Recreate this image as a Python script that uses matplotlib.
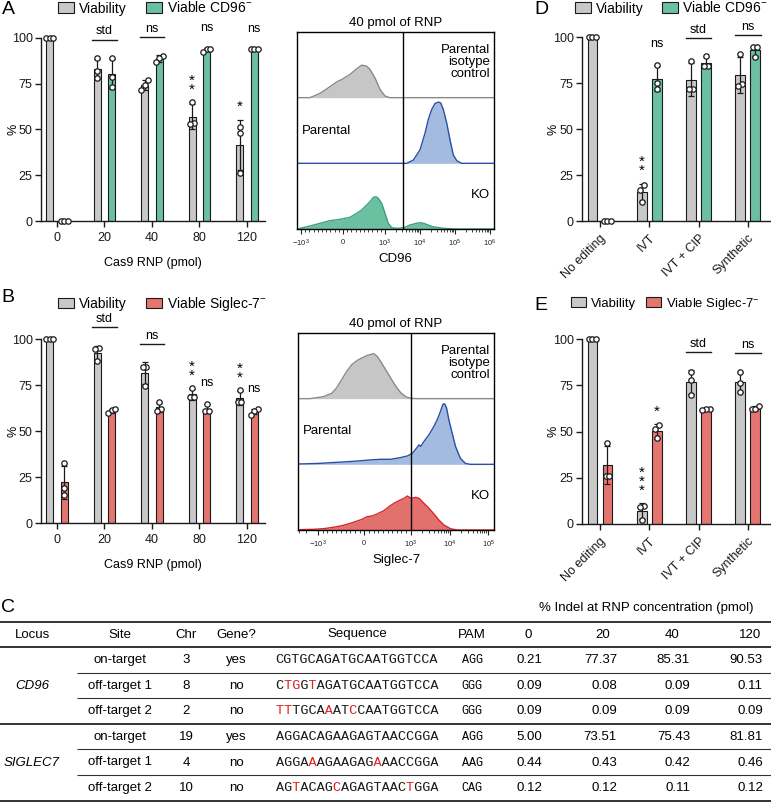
import numpy as np
import matplotlib
matplotlib.use('Agg')
import matplotlib.pyplot as plt
from matplotlib.patches import Patch

plt.rcParams['font.family'] = ['Liberation Sans', 'DejaVu Sans']
plt.rcParams['mathtext.fontset'] = 'custom'
plt.rcParams['mathtext.rm'] = 'Liberation Sans'
plt.rcParams['mathtext.it'] = 'Liberation Sans:italic'
plt.rcParams['mathtext.bf'] = 'Liberation Sans:bold'

W, H = 771, 802

# ---------------- bar chart data (3 replicates each) ----------------
doses = ['0', '20', '40', '80', '120']
a_viab = [[100, 100, 100], [89, 82, 77.8], [76.9, 74, 71.5], [64.7, 53.3, 52.7], [51.1, 47.8, 26]]
a_cd96 = [[0, 0, 0], [89, 78.7, 72.9], [90.2, 88.7, 86.5], [93.8, 93.8, 92.4], [93.8, 93.8, 93.8]]
b_viab = [[100, 100, 100], [95.1, 94.6, 88.2], [85.1, 84.8, 74.8], [73.5, 68.5, 68.5], [72.5, 66, 66]]
b_sig7 = [[32.6, 19, 15.4], [60, 61.5, 62], [66, 62, 61], [65, 61, 61], [62, 61, 59]]

methods = ['No editing', 'IVT', 'IVT + CIP', 'Synthetic']
d_viab = [[100, 100, 100], [19.6, 16.9, 10.4], [87, 72, 71.5], [90.9, 74.2, 73.6]]
d_cd96 = [[0, 0, 0], [85, 75, 72], [89.6, 84.5, 84.2], [94.5, 94.5, 89]]
e_viab = [[100, 100, 100], [9.9, 9, 2.2], [82.5, 78, 69.9], [82.5, 76.5, 71.5]]
e_sig7 = [[44, 26, 26], [53.6, 51.4, 46.4], [62.5, 62, 61.5], [64, 62, 62]]

# significance marks: (group, where, text)
a_marks = [(1, 'pair', 'std'), (2, 'pair', 'ns'), (3, 'grey', '*\n*'), (3, 'col', 'ns'),
           (4, 'grey', '*'), (4, 'col', 'ns')]
b_marks = [(1, 'pair', 'std'), (2, 'pair', 'ns'), (3, 'grey', '*\n*'), (3, 'col', 'ns'),
           (4, 'grey', '*\n*'), (4, 'col', 'ns')]
d_marks = [(1, 'grey', '*\n*'), (1, 'col', 'ns'), (2, 'pair', 'std'), (3, 'pair', 'ns')]
e_marks = [(1, 'grey', '*\n*\n*'), (1, 'col', '*'), (2, 'pair', 'std'), (3, 'pair', 'ns')]

# ---------------- flow histograms (fluorescence, relative height) ----------------
a_iso_x = [-786, -548, -310, -150, -31, 167, 326, 445, 564, 643, 762, 881, 1000, 1390]
a_iso_h = [0, 0.066, 0.167, 0.24, 0.276, 0.354, 0.44, 0.495, 0.48, 0.43, 0.30, 0.126, 0.025, 0]
a_par_x = [4170, 6450, 10000, 13900, 17300, 21600, 26800, 33400, 39000, 46300, 57900,
           71900, 89400, 112000, 155000]
a_par_h = [0, 0.05, 0.205, 0.46, 0.67, 0.82, 0.91, 0.933, 0.92, 0.82, 0.615, 0.36, 0.128, 0.041, 0]
a_ko_x = [-1064, -786, -548, -310, -71, 167, 326, 445, 564, 643, 722, 786, 841, 921, 1000,
          1240, 1570, 2210, 3450, 5190, 7810, 10600, 14500, 22300, 46300, 112000]
a_ko_h = [0.01, 0.046, 0.086, 0.127, 0.147, 0.178, 0.239, 0.289, 0.365, 0.416, 0.482, 0.492,
          0.467, 0.391, 0.239, 0.086, 0.02, 0.01, 0.02, 0.061, 0.086, 0.096, 0.076, 0.036, 0.01, 0]
a_gate = 3270

b_iso_x = [-1604, -884, -703, -594, -486, -377, -268, -145, -51, 58, 130, 203, 275, 348, 457,
           565, 674, 783, 891, 1000, 1486]
b_iso_h = [0, 0.03, 0.081, 0.167, 0.293, 0.419, 0.52, 0.586, 0.621, 0.657, 0.672, 0.687, 0.646,
           0.571, 0.444, 0.318, 0.192, 0.091, 0.03, 0.005, 0]
b_par_x = [-3200, -957, -594, -232, 130, 348, 565, 783, 928, 1105, 1343, 1633, 1805, 2192, 2947,
           3963, 4835, 5880, 6720, 7440, 8370, 9600, 11700, 14300, 19100, 25700, 34500]
b_par_h = [0.005, 0.015, 0.031, 0.046, 0.067, 0.077, 0.077, 0.103, 0.128, 0.169, 0.231, 0.297,
           0.272, 0.349, 0.451, 0.579, 0.682, 0.81, 0.913, 0.923, 0.862, 0.682, 0.477, 0.272,
           0.092, 0.015, 0]
b_ko_x = [-3200, -1320, -884, -667, -450, -232, -51, 58, 167, 275, 420, 528, 637, 746, 854, 928,
          1000, 1343, 1633, 2192, 2947, 3963, 5320, 7150, 10600, 15700]
b_ko_h = [0.005, 0.01, 0.02, 0.041, 0.071, 0.117, 0.162, 0.203, 0.213, 0.244, 0.294, 0.355,
          0.406, 0.447, 0.482, 0.518, 0.482, 0.497, 0.482, 0.406, 0.33, 0.244, 0.152, 0.076, 0.02, 0]
b_gate = 1000

# ---------------- table ----------------
loci = ['CD96', 'SIGLEC7']
sites = ['on-target', 'off-target 1', 'off-target 2', 'on-target', 'off-target 1', 'off-target 2']
chrs = ['3', '8', '2', '19', '4', '10']
genes = ['yes', 'no', 'no', 'yes', 'no', 'no']
seqs = ['CGTGCAGATGCAATGGTCCA', 'CTGGTAGATGCAATGGTCCA', 'TTTGCAAATCCAATGGTCCA',
        'AGGACAGAAGAGTAACCGGA', 'AGGAAAGAAGAGAAACCGGA', 'AGTACAGCAGAGTAACTGGA']
pams = ['AGG', 'GGG', 'GGG', 'AGG', 'AAG', 'CAG']
indel_conc = ['0', '20', '40', '120']
indel_0 = [0.21, 0.09, 0.09, 5.00, 0.44, 0.12]
indel_20 = [77.37, 0.08, 0.09, 73.51, 0.43, 0.12]
indel_40 = [85.31, 0.09, 0.09, 75.43, 0.42, 0.11]
indel_120 = [90.53, 0.11, 0.09, 81.81, 0.46, 0.12]

GREY = '#c8c8c8'
GREEN = '#6cc0a2'
RED = '#e57571'
EDGE = '#1a1a1a'


def px_axes(fig, left, top, right, bottom):
    return fig.add_axes([left / W, 1 - bottom / H, (right - left) / W, (bottom - top) / H])


def swarm(vals, step=0.075, tol=3.0):
    vals = np.asarray(vals, float)
    offs = np.zeros(len(vals))
    order = np.argsort(vals)
    clusters, cur = [], [order[0]]
    for i in order[1:]:
        if vals[i] - vals[cur[-1]] < tol:
            cur.append(i)
        else:
            clusters.append(cur)
            cur = [i]
    clusters.append(cur)
    for c in clusters:
        n = len(c)
        for k, i in enumerate(c):
            offs[i] = (k - (n - 1) / 2) * step
    return offs


def bar_panel(ax, labels, grey_pts, col_pts, col, marks, width, offset, line_cap=None):
    x = np.arange(len(labels))
    tops, centers = {}, {}
    for key, pts_list, fc, sgn in (('grey', grey_pts, GREY, -1), ('col', col_pts, col, 1)):
        pts = [np.asarray(p, float) for p in pts_list]
        mean = np.array([p.mean() for p in pts])
        sd = np.array([p.std(ddof=1) for p in pts])
        xs = x + sgn * offset
        ax.bar(xs, mean, width, color=fc, edgecolor=EDGE, linewidth=0.8, zorder=2)
        eb = ax.errorbar(xs, mean, yerr=sd, fmt='none', ecolor=EDGE, elinewidth=0.9,
                         capsize=2.2, capthick=0.9, zorder=3)
        for art in eb.get_children():
            art.set_clip_on(False)
        for xi, p in zip(xs, pts):
            ax.scatter(xi + swarm(p), p, s=15, facecolor='white', edgecolor=EDGE,
                       linewidth=0.9, zorder=4, clip_on=False)
        tops[key] = np.maximum(mean + sd, [p.max() for p in pts])
        centers[key] = xs

    for g, where, txt in marks:
        if where == 'pair':
            y = max(tops['grey'][g], tops['col'][g]) + 10
            if line_cap is not None:
                y = min(y, line_cap)
            ax.plot([g - 0.26, g + 0.26], [y, y], color=EDGE, lw=1, clip_on=False)
            ax.text(g, y + 1.2, txt, ha='center', va='bottom', fontsize=9)
        else:
            xc = centers[where][g]
            top = tops[where][g]
            if txt.startswith('*'):
                ax.text(xc, top + 3, txt, ha='center', va='bottom', fontsize=11,
                        linespacing=0.55)
            else:
                ax.text(xc, top + 11, txt, ha='center', va='center', fontsize=9)

    ax.set_ylim(0, 100)
    ax.set_yticks([0, 25, 50, 75, 100])
    ax.set_xticks(x)
    ax.set_xticklabels(labels)
    for s in ('top', 'right'):
        ax.spines[s].set_visible(False)
    for s in ('left', 'bottom'):
        ax.spines[s].set_linewidth(1)
        ax.spines[s].set_color(EDGE)
    ax.tick_params(direction='out', length=4, width=1, labelsize=9, colors=EDGE, pad=2)
    ax.tick_params(axis='x', pad=4)
    ax.set_ylabel('%', fontsize=9)


def legend(ax, fig, col, label, x_px, y_px, colsp=1.4, fs=10):
    handles = [Patch(facecolor=GREY, edgecolor=EDGE, lw=0.8),
               Patch(facecolor=col, edgecolor=EDGE, lw=0.8)]
    ax.legend(handles, ['Viability', label], ncol=2, loc='center left',
              bbox_to_anchor=(x_px / W, 1 - y_px / H), bbox_transform=fig.transFigure,
              frameon=False, fontsize=fs, handlelength=1.15, handleheight=0.8,
              handletextpad=0.35, columnspacing=colsp, borderpad=0, borderaxespad=0)


def hist_panel(ax, curves, xlim, gate, xlabel, majors, major_labels):
    ax.set_xscale('symlog', linthresh=1000, linscale=1.08)
    ax.set_xlim(xlim)
    ax.set_ylim(0, 3)
    for row, (xv, hv, fc, ec) in enumerate(curves):
        xv = np.concatenate([[xlim[0]], xv, [xlim[1]]])
        hv = np.concatenate([[0], hv, [0]])
        ax.fill_between(xv, row, row + hv, color=fc, lw=0, zorder=1)
        ax.plot(xv, row + hv, color=ec, lw=1, zorder=2)
    ax.axvline(gate, color='black', lw=1, zorder=3)
    ax.set_yticks([])
    ax.set_xticks(majors)
    ax.set_xticklabels(major_labels)
    minors = [v for v in range(-900, 1000, 100) if v != 0]
    for dec in (1e3, 1e4, 1e5):
        minors += [k * dec for k in range(2, 10)]
        minors += [-k * dec for k in range(2, 10)]
    minors = [v for v in minors if xlim[0] < v < xlim[1]]
    ax.set_xticks(minors, minor=True)
    ax.tick_params(axis='x', which='major', length=3.5, width=0.8, labelsize=5.5,
                   colors='#222', pad=2.5)
    ax.tick_params(axis='x', which='minor', length=2, width=0.6, colors='#222')
    for s in ax.spines.values():
        s.set_linewidth(1)
        s.set_color('black')
    ax.set_xlabel(xlabel, fontsize=9.5, labelpad=3)
    ax.set_title('40 pmol of RNP', fontsize=9.5, pad=4)
    ax.text(1 - 4 / 197, 1 - 12 / 197, 'Parental\nisotype\ncontrol', transform=ax.transAxes,
            ha='right', va='top', fontsize=9.5, linespacing=1.0)
    ax.text(5 / 197, 1.5, 'Parental', transform=ax.get_yaxis_transform(),
            ha='left', va='center', fontsize=9.5)
    ax.text(1 - 4 / 197, 0.52, 'KO', transform=ax.get_yaxis_transform(),
            ha='right', va='center', fontsize=9.5)


fig = plt.figure(figsize=(W / 100, H / 100), dpi=100)

# overlay for panel letters and the table
ov = fig.add_axes([0, 0, 1, 1])
ov.set_xlim(0, W)
ov.set_ylim(H, 0)
ov.axis('off')

# ---- A ----
axA = px_axes(fig, 41, 37.7, 265, 221)
bar_panel(axA, doses, a_viab, a_cd96, GREEN, a_marks, 0.155, 0.153)
axA.set_xlim(-0.337, 4.38)
axA.set_xlabel('Cas9 RNP (pmol)', fontsize=9, labelpad=9)
axA.yaxis.set_label_coords(-0.095, 0.5)
legend(axA, fig, GREEN, 'Viable CD96$^{-}$', 58, 8)

# ---- B ----
axB = px_axes(fig, 41, 339.3, 265, 523.3)
bar_panel(axB, doses, b_viab, b_sig7, RED, b_marks, 0.155, 0.153)
axB.set_xlim(-0.337, 4.38)
axB.set_xlabel('Cas9 RNP (pmol)', fontsize=9, labelpad=9)
axB.yaxis.set_label_coords(-0.095, 0.5)
legend(axB, fig, RED, 'Viable Siglec-7$^{-}$', 58, 304)

# ---- D ----
axD = px_axes(fig, 582, 37, 770, 221)
bar_panel(axD, methods, d_viab, d_cd96, GREEN, d_marks, 0.2, 0.152, line_cap=101)
axD.set_xlim(-0.365, 3.45)
axD.yaxis.set_label_coords(-0.12, 0.5)
plt.setp(axD.get_xticklabels(), rotation=45, ha='right', rotation_mode='anchor')
legend(axD, fig, GREEN, 'Viable CD96$^{-}$', 575, 8, colsp=1.3)

# ---- E ----
axE = px_axes(fig, 582, 339.3, 770, 524)
bar_panel(axE, methods, e_viab, e_sig7, RED, e_marks, 0.2, 0.152)
axE.set_xlim(-0.365, 3.45)
axE.yaxis.set_label_coords(-0.12, 0.5)
plt.setp(axE.get_xticklabels(), rotation=45, ha='right', rotation_mode='anchor')
legend(axE, fig, RED, 'Viable Siglec-7$^{-}$', 571, 304, colsp=0.8, fs=9.4)

# ---- flow histograms ----
axHA = px_axes(fig, 297, 32, 494, 229)
hist_panel(axHA, [(a_ko_x, a_ko_h, '#6cc0a2', '#3f9f7e'),
                  (a_par_x, a_par_h, '#a3bbdf', '#2b4fa8'),
                  (a_iso_x, a_iso_h, '#c6c6c6', '#8a8a8a')],
           (-1300, 1.3e6), a_gate, 'CD96',
           [-1e3, 0, 1e3, 1e4, 1e5, 1e6],
           ['$-10^3$', '$0$', '$10^3$', '$10^4$', '$10^5$', '$10^6$'])

axHB = px_axes(fig, 298, 333, 494, 530)
hist_panel(axHB, [(b_ko_x, b_ko_h, '#e2716d', '#d3282a'),
                  (b_par_x, b_par_h, '#a3bbdf', '#2b4fa8'),
                  (b_iso_x, b_iso_h, '#c6c6c6', '#8a8a8a')],
           (-3260, 1.41e5), b_gate, 'Siglec-7',
           [-1e3, 0, 1e3, 1e4, 1e5],
           ['$-10^3$', '$0$', '$10^3$', '$10^4$', '$10^5$'])

# ---- panel letters ----
for letter, (lx, ly) in zip('ABCDE', [(8, 9), (8, 298), (8, 607), (541, 9), (541, 305)]):
    ov.text(lx, ly, letter, fontsize=14, ha='center', va='center')

# ---- C: table ----
TFS = 9.5
row_h = 25.6
header_y = 634.5
row_y = [header_y + row_h * (i + 1) for i in range(6)]
ov.text(646, 608, '% Indel at RNP concentration (pmol)', fontsize=TFS, ha='center', va='center')
for y, lw, x0 in [(622, 1.4, 0), (647, 1.4, 0), (724, 1.4, 0), (801, 1.4, 0),
                  (673, 0.8, 77), (698, 0.8, 77), (749, 0.8, 77), (775, 0.8, 77)]:
    ov.plot([x0, W], [y, y], color='#333333', lw=lw, solid_capstyle='butt')

headers = [('Locus', 32), ('Site', 120), ('Chr', 186), ('Gene?', 236), ('Sequence', 357),
           ('PAM', 472)]
for txt, hx in headers:
    ov.text(hx, header_y, txt, fontsize=TFS, ha='center', va='center')
for txt, hx in zip(indel_conc, [528, 603, 672, 750]):
    ov.text(hx, header_y, txt, fontsize=TFS, ha='center', va='center')

for gi, locus in enumerate(loci):
    ov.text(32, row_y[gi * 3 + 1], locus, fontsize=TFS, style='italic', ha='center', va='center')

for i in range(6):
    y = row_y[i]
    ov.text(120, y, sites[i], fontsize=TFS, ha='center', va='center')
    ov.text(186, y, chrs[i], fontsize=TFS, ha='center', va='center')
    ov.text(236, y, genes[i], fontsize=TFS, ha='center', va='center')
    ref = seqs[(i // 3) * 3]
    black = ''.join(c if c == r else ' ' for c, r in zip(seqs[i], ref))
    red = ''.join(c if c != r else ' ' for c, r in zip(seqs[i], ref))
    ov.text(357, y, black, fontsize=9.7, family='Liberation Mono', ha='center', va='center',
            color='#1a1a1a')
    ov.text(357, y, red, fontsize=9.7, family='Liberation Mono', ha='center', va='center',
            color='#e02020')
    ov.text(472, y, pams[i], fontsize=8.5, family='Liberation Mono', ha='center', va='center')
    for vals, rx in zip([indel_0, indel_20, indel_40, indel_120], [542, 617, 690, 763]):
        ov.text(rx, y, f'{vals[i]:.2f}', fontsize=TFS, ha='right', va='center')

fig.savefig('out.png', dpi=100)
